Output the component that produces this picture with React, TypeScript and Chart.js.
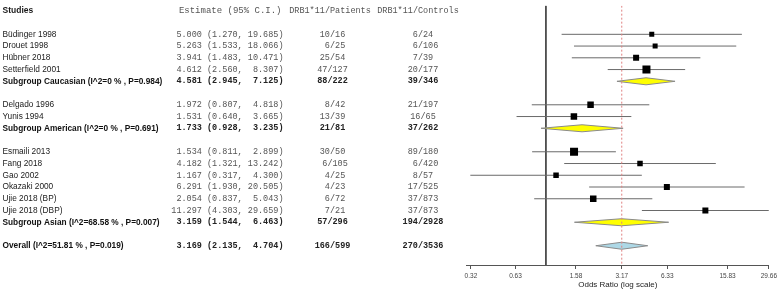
import React, { useEffect, useRef } from "react";
import { Chart, registerables } from "chart.js";

Chart.register(...registerables);

// ---------- data ----------
const rowLabels = [
  "Büdinger 1998",
  "Drouet 1998",
  "Hübner 2018",
  "Setterfield 2001",
  "Subgroup Caucasian (I^2=0 % , P=0.984)",
  "",
  "Delgado 1996",
  "Yunis 1994",
  "Subgroup American (I^2=0 % , P=0.691)",
  "",
  "Esmaili 2013",
  "Fang 2018",
  "Gao 2002",
  "Okazaki 2000",
  "Ujie 2018 (BP)",
  "Ujie 2018 (DBP)",
  "Subgroup Asian (I^2=68.58 % , P=0.007)",
  "",
  "Overall (I^2=51.81 % , P=0.019)",
];
const rowKinds = [
  "study", "study", "study", "study", "summary", "blank",
  "study", "study", "summary", "blank",
  "study", "study", "study", "study", "study", "study", "summary", "blank",
  "overall",
];
const estimates = [5.0, 5.263, 3.941, 4.612, 4.581, null, 1.972, 1.531, 1.733, null, 1.534, 4.182, 1.167, 6.291, 2.054, 11.297, 3.159, null, 3.169];
const lowers = [1.27, 1.533, 1.483, 2.56, 2.945, null, 0.807, 0.64, 0.928, null, 0.811, 1.321, 0.317, 1.93, 0.837, 4.303, 1.544, null, 2.135];
const uppers = [19.685, 18.066, 10.471, 8.307, 7.125, null, 4.818, 3.665, 3.235, null, 2.899, 13.242, 4.3, 20.505, 5.043, 29.659, 6.463, null, 4.704];
const patients = ["10/16", " 6/25", "25/54", "47/127", "88/222", "", " 8/42", "13/39", "21/81", "", "30/50", " 6/105", " 4/25", " 4/23", " 6/72", " 7/21", "57/296", "", "166/599"];
const controls = ["6/24", " 6/106", "7/39", "20/177", "39/346", "", "21/197", "16/65", "37/262", "", "89/180", " 6/420", "8/57", "17/525", "37/873", "37/873", "194/2928", "", "270/3536"];
const squareSides = [5, 5, 6, 8, 0, 0, 6.5, 6.5, 0, 0, 8, 5.5, 5.5, 6, 6.5, 6, 0, 0, 0];
const headers = ["Studies", "Estimate (95% C.I.)", "DRB1*11/Patients", "DRB1*11/Controls"];
const tickValues = [0.32, 0.63, 1.58, 3.17, 6.33, 15.83, 29.66];
const tickLabels = ["0.32", "0.63", "1.58", "3.17", "6.33", "15.83", "29.66"];
const nullEffect = 1;
const axisTitle = "Odds Ratio (log scale)";

// ---------- layout / style ----------
const W = 780;
const H = 292;
const Y_MIN = -2.44;
const Y_MAX = 19.64;
const HEADER_ROW = -2;
const DIAMOND_HALF = 0.3;
const SANS = "'Liberation Sans', Arial, sans-serif";
const MONO = "'Liberation Mono', 'Courier New', monospace";

const fmtEstimate = (i: number) => {
  const e = estimates[i] as number;
  const l = lowers[i] as number;
  const h = uppers[i] as number;
  return `${e.toFixed(3)} (${l.toFixed(3)}, ${h.toFixed(3).padStart(6)})`;
};

const textPlugin = {
  id: "forestText",
  afterDraw(chart: any) {
    const ctx = chart.ctx as CanvasRenderingContext2D;
    const y = chart.scales.y;
    ctx.save();
    ctx.textBaseline = "middle";
    const colStudy = 2.5;
    const colEstRight = 283.5;
    const colPat = 332.5;
    const colCtl = 423;
    // headers
    const hy = y.getPixelForValue(HEADER_ROW);
    ctx.fillStyle = "#1a1a1a";
    ctx.font = `bold 8.5px ${SANS}`;
    ctx.textAlign = "left";
    ctx.fillText(headers[0], colStudy, hy);
    ctx.fillStyle = "#555";
    ctx.font = `9px ${MONO}`;
    ctx.textAlign = "right";
    ctx.fillText(headers[1], 281.5, hy);
    ctx.font = `8.5px ${MONO}`;
    ctx.textAlign = "center";
    ctx.fillText(headers[2], 330, hy);
    ctx.fillText(headers[3], 418, hy);
    rowLabels.forEach((lab, i) => {
      if (rowKinds[i] === "blank") return;
      const py = y.getPixelForValue(i);
      const bold = rowKinds[i] !== "study";
      ctx.fillStyle = bold ? "#111" : "#1a1a1a";
      ctx.font = `${bold ? "bold " : ""}8.3px ${SANS}`;
      ctx.textAlign = "left";
      ctx.fillText(lab, colStudy, py);
      ctx.fillStyle = bold ? "#222" : "#555";
      ctx.font = `${bold ? "bold " : ""}8.5px ${MONO}`;
      ctx.textAlign = "right";
      ctx.fillText(fmtEstimate(i), colEstRight, py);
      ctx.textAlign = "center";
      ctx.fillText(patients[i], colPat, py);
      ctx.fillText(controls[i], colCtl, py);
    });
    ctx.restore();
  },
};

export default function App() {
  const ref = useRef<HTMLCanvasElement | null>(null);
  useEffect(() => {
    if (!ref.current) return;
    const datasets: any[] = [];
    // squares
    const sqIdx = rowKinds.map((k, i) => (k === "study" ? i : -1)).filter((i) => i >= 0);
    datasets.push({
      type: "scatter",
      order: 0,
      data: sqIdx.map((i) => ({ x: estimates[i], y: i })),
      pointStyle: "rect",
      pointRadius: sqIdx.map((i) => squareSides[i] / Math.SQRT2),
      pointHoverRadius: sqIdx.map((i) => squareSides[i] / Math.SQRT2),
      backgroundColor: "#000",
      borderColor: "#000",
      borderWidth: 0,
    });
    // CI lines
    sqIdx.forEach((i) => {
      datasets.push({
        type: "line",
        order: 2,
        data: [
          { x: lowers[i], y: i },
          { x: uppers[i], y: i },
        ],
        borderColor: "#6a6a6a",
        borderWidth: 1,
        pointRadius: 0,
        fill: false,
      });
    });
    // diamonds
    rowKinds.forEach((k, i) => {
      if (k !== "summary" && k !== "overall") return;
      datasets.push({
        type: "line",
        order: 1,
        data: [
          { x: lowers[i], y: i },
          { x: estimates[i], y: i - DIAMOND_HALF },
          { x: uppers[i], y: i },
          { x: estimates[i], y: i + DIAMOND_HALF },
          { x: lowers[i], y: i },
        ],
        borderColor: "#8a8a8a",
        borderWidth: 1,
        backgroundColor: k === "overall" ? "#add8e6" : "#ffff00",
        fill: "shape",
        pointRadius: 0,
        tension: 0,
      });
    });
    // null effect line
    datasets.push({
      type: "line",
      order: 3,
      data: [
        { x: nullEffect, y: Y_MIN },
        { x: nullEffect, y: Y_MAX },
      ],
      borderColor: "#444",
      borderWidth: 1,
      pointRadius: 0,
    });
    // overall estimate dashed line
    const ov = rowKinds.indexOf("overall");
    datasets.push({
      type: "line",
      order: 0.5,
      data: [
        { x: estimates[ov], y: Y_MIN },
        { x: estimates[ov], y: Y_MAX },
      ],
      borderColor: "#e08080",
      borderWidth: 1,
      borderDash: [2, 2],
      pointRadius: 0,
    });

    const chart = new Chart(ref.current, {
      type: "scatter",
      data: { datasets },
      options: {
        responsive: false,
        animation: false,
        devicePixelRatio: 1,
        layout: { padding: { left: 466.7, right: 11, top: 0, bottom: 0.6 } },
        plugins: {
          legend: { display: false },
          tooltip: { enabled: false },
          title: { display: false },
        },
        scales: {
          x: {
            type: "logarithmic",
            min: tickValues[0],
            max: tickValues[tickValues.length - 1],
            position: "bottom",
            afterBuildTicks: (scale: any) => {
              scale.ticks = tickValues.map((v) => ({ value: v }));
            },
            ticks: {
              autoSkip: false,
              maxRotation: 0,
              minRotation: 0,
              padding: 3,
              color: "#444",
              font: { size: 6.5, family: SANS },
              callback: (_v: any, idx: number) => tickLabels[idx],
            },
            grid: {
              display: true,
              drawOnChartArea: false,
              drawTicks: true,
              tickLength: 4,
              color: "#555",
            },
            border: { display: true, color: "#555", width: 1 },
            title: {
              display: true,
              text: axisTitle,
              color: "#222",
              font: { size: 8, family: SANS },
              padding: { top: -3, bottom: 2 },
            },
          },
          y: {
            type: "linear",
            min: Y_MIN,
            max: Y_MAX,
            reverse: true,
            display: false,
          },
        },
      },
      plugins: [textPlugin],
    } as any);
    return () => chart.destroy();
  }, []);
  return (
    <div style={{ position: "absolute", left: 0, top: 0, width: W, height: H, background: "#fff" }}>
      <canvas ref={ref} width={W} height={H} style={{ display: "block" }} />
    </div>
  );
}
